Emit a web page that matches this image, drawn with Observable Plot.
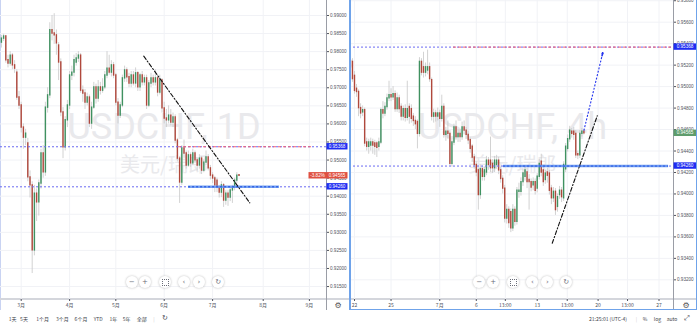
<!DOCTYPE html>
<html>
<head>
<meta charset="utf-8">
<script src="https://cdn.jsdelivr.net/npm/d3@7"></script>
<script src="https://cdn.jsdelivr.net/npm/@observablehq/plot@0.6"></script>
<style>
html,body{margin:0;padding:0;background:#fff;}
#wrap{position:relative;width:698px;height:325px;overflow:hidden;background:#fff;font-family:"Liberation Sans",Arial,sans-serif;color:#434651;}
.abs{position:absolute;}
.panel{position:absolute;top:0;width:349px;height:310px;}
.panel svg{position:absolute;left:0;top:0;}
.btn{position:absolute;width:12px;height:12px;margin:-6px 0 0 -6px;border-radius:50%;background:#fff;box-shadow:0 0 2px 0.6px rgba(0,0,0,0.16);color:#6a6d78;font-size:7px;line-height:12px;text-align:center;font-family:"DejaVu Sans",sans-serif;}
.corners{position:absolute;left:3.5px;top:3.5px;width:5px;height:5px;border:1px dotted #6a6d78;}
.tb{position:absolute;top:318px;transform:translate(-50%,-50%);font-size:5px;color:#3b3e48;white-space:nowrap;font-family:"Noto Sans CJK SC","Liberation Sans",sans-serif;}
.gear{position:absolute;transform:translate(-50%,-50%);font-family:"DejaVu Sans",sans-serif;font-size:8px;color:#555;}
</style>
</head>
<body>
<div id="wrap">
  <!-- panel chrome -->
  <div class="abs" style="left:0;top:0;width:1px;height:310px;background:#c9d3f2"></div>
  <div class="abs" style="left:0;top:298px;width:349px;height:2px;background:#d4d6dc"></div>
  <div class="abs" style="left:326px;top:0;width:1px;height:310px;background:#9a9da6"></div>
  <div class="abs" style="left:349px;top:298px;width:347px;height:2px;background:#d4d6dc"></div>
  <div class="abs" style="left:673px;top:0;width:1px;height:309px;background:#9a9da6"></div>
  <div id="left" class="panel" style="left:0"></div>
  <div id="right" class="panel" style="left:349px"></div>
  <div class="abs" style="left:349px;top:0;width:1.5px;height:310px;background:#6fa3ea"></div>
  <div class="abs" style="left:349px;top:308.5px;width:348px;height:1.5px;background:#6fa3ea"></div>
  <div class="abs" style="left:695.5px;top:0;width:1.5px;height:310px;background:#6fa3ea"></div>
  <div class="gear" style="left:338px;top:305px">⚙</div>
  <div class="gear" style="left:686px;top:305px">⚙</div>
  <div id="chrome"></div>
</div>
<script>
// ---------------- data ----------------
// Left: USDCHF daily, bar index 0 = first trading day of March
const leftStart = -9;
const leftCandles = [ // [open, high, low, close]
[.9825,.9845,.9810,.9836],[.9836,.9848,.9828,.9842],[.9842,.9845,.9768,.9776],[.9776,.9790,.9755,.9767],
[.9767,.9800,.9760,.9789],[.9789,.9795,.9750,.9762],[.9762,.9775,.9740,.9753],[.9742,.9750,.9665,.9673],
[.9673,.9690,.9640,.9651],
[.9651,.9660,.9575,.9590],[.9590,.9600,.9530,.9562],[.9562,.9585,.9540,.9573],[.9546,.9560,.9440,.9452],[.9452,.9470,.9395,.9430],
[.9430,.9440,.9186,.9250],[.9250,.9430,.9235,.9407],[.9407,.9420,.9330,.9383],[.9383,.9445,.9345,.9435],[.9435,.9530,.9420,.9518],
[.9518,.9540,.9450,.9466],[.9466,.9660,.9455,.9645],[.9645,.9700,.9630,.9679],[.9679,.9880,.9670,.9859],[.9859,.9900,.9830,.9850],
[.9850,.9905,.9820,.9845],[.9845,.9860,.9790,.9823],[.9817,.9825,.9720,.9770],[.9770,.9780,.9620,.9632],[.9632,.9645,.9504,.9535],
[.9535,.9620,.9525,.9610],[.9610,.9665,.9590,.9651],[.9651,.9745,.9640,.9734],[.9734,.9760,.9720,.9742],[.9742,.9790,.9730,.9776],
[.9770,.9795,.9760,.9781],[.9781,.9800,.9770,.9789],[.9789,.9795,.9685,.9692],[.9692,.9705,.9660,.9684],[.9684,.9695,.9640,.9659],
[.9659,.9685,.9650,.9673],[.9673,.9680,.9590,.9601],[.9601,.9660,.9585,.9645],[.9645,.9715,.9640,.9701],[.9701,.9710,.9655,.9670],
[.9670,.9720,.9660,.9701],[.9701,.9715,.9680,.9692],[.9692,.9725,.9685,.9701],[.9701,.9745,.9695,.9734],[.9734,.9800,.9725,.9753],
[.9753,.9790,.9735,.9742],[.9742,.9775,.9730,.9762],[.9762,.9770,.9725,.9734],[.9734,.9740,.9650,.9659],[.9659,.9670,.9600,.9623],
[.9623,.9660,.9615,.9651],[.9651,.9735,.9645,.9726],[.9726,.9760,.9715,.9748],[.9748,.9755,.9715,.9729],[.9729,.9740,.9700,.9712],
[.9712,.9745,.9700,.9734],[.9734,.9745,.9705,.9712],[.9712,.9755,.9700,.9740],[.9740,.9745,.9690,.9701],[.9701,.9740,.9690,.9734],
[.9734,.9745,.9705,.9715],[.9715,.9735,.9705,.9726],[.9726,.9735,.9640,.9651],[.9651,.9720,.9645,.9712],[.9712,.9740,.9700,.9726],
[.9726,.9735,.9705,.9715],[.9715,.9750,.9705,.9726],[.9726,.9735,.9675,.9687],[.9687,.9735,.9680,.9720],[.9720,.9725,.9630,.9643],
[.9643,.9660,.9600,.9615],[.9615,.9640,.9590,.9610],[.9610,.9650,.9600,.9623],[.9623,.9640,.9595,.9604],[.9604,.9630,.9590,.9618],
[.9618,.9625,.9545,.9554],[.9554,.9560,.9495,.9504],[.9504,.9510,.9380,.9438],[.9438,.9540,.9430,.9532],[.9532,.9555,.9505,.9518],
[.9518,.9525,.9475,.9485],[.9485,.9525,.9480,.9513],[.9513,.9520,.9480,.9491],[.9491,.9530,.9485,.9518],[.9518,.9525,.9490,.9499],
[.9499,.9505,.9470,.9485],[.9485,.9515,.9475,.9504],[.9504,.9510,.9460,.9471],[.9471,.9500,.9465,.9493],[.9493,.9525,.9485,.9507],
[.9507,.9515,.9470,.9477],[.9477,.9485,.9445,.9457],[.9457,.9465,.9435,.9449],[.9449,.9455,.9410,.9430],[.9443,.9450,.9410,.9424],
[.9424,.9430,.9395,.9410],[.9410,.9440,.9396,.9430],[.9430,.9435,.9369,.9388],[.9388,.9415,.9375,.9407],[.9407,.9415,.9372,.9396],
[.9396,.9425,.9385,.9416],[.9416,.9430,.9380,.9424],[.9424,.9450,.9415,.9443],[.9443,.9465,.9435,.9457],[.9458,.9460,.9454,.94565]
];
const leftTickIdx = [0, 22, 43, 65, 87, 110, 131];
const leftTickLabels = ["3月", "4月", "5月", "6月", "7月", "8月", "9月"];
const leftPriceTicks = [0.915,0.92,0.925,0.93,0.935,0.94,0.945,0.95,0.955,0.96,0.965,0.97,0.975,0.98,0.985,0.99];
const leftTrend = [[55.7, 0.97874], [103.9, 0.93817]];
const leftResZone = [71.5, 132];   // red dashed part of 0.95368 level
const leftSupZone = [76.1, 117.4]; // solid blue part of 0.94260 level

// Right: USDCHF 4h, bar index 0 = first bar of 22 June
const rightStart = -2;
const rightCandles = [ // [open, high, low, close]
[.9524,.9528,.9515,.9518],[.9523,.9526,.9504,.9507],[.9510,.9514,.9493,.9496],[.9498,.9502,.9490,.9495],
[.9495,.9497,.9472,.9480],[.9480,.9484,.9470,.9475],[.9476,.9482,.9472,.9478],[.9478,.9480,.9444,.9447],
[.9448,.9452,.9440,.9444],[.9444,.9451,.9437,.9448],[.9445,.9452,.9440,.9448],[.9448,.9451,.9437,.9445],
[.9447,.9450,.9436,.9444],[.9447,.9449,.9434,.9443],[.9444,.9452,.9440,.9448],[.9448,.9480,.9446,.9478],
[.9478,.9486,.9470,.9475],[.9475,.9485,.9472,.9481],[.9481,.9493,.9478,.9489],[.9489,.9505,.9486,.9492],
[.9492,.9498,.9486,.9490],[.9490,.9500,.9487,.9493],[.9493,.9496,.9476,.9479],[.9479,.9494,.9476,.9489],
[.9489,.9492,.9475,.9479],[.9481,.9484,.9468,.9472],[.9472,.9482,.9468,.9479],[.9479,.9483,.9467,.9471],
[.9471,.9505,.9468,.9479],[.9481,.9484,.9465,.9472],[.9479,.9483,.9466,.9470],[.9472,.9475,.9463,.9468],
[.9468,.9472,.9460,.9465],[.9467,.9469,.9442,.9456],[.9456,.9527,.9453,.9523],[.9523,.9526,.9510,.9513],
[.9518,.9532,.9508,.9513],[.9513,.9522,.9509,.9518],[.9515,.9534,.9511,.9518],[.9518,.9522,.9504,.9507],
[.9506,.9508,.9468,.9472],[.9472,.9479,.9466,.9475],[.9475,.9478,.9467,.9472],[.9472,.9480,.9468,.9475],
[.9475,.9478,.9462,.9470],[.9470,.9492,.9467,.9481],[.9481,.9484,.9452,.9455],[.9455,.9462,.9449,.9458],
[.9458,.9468,.9451,.9456],[.9456,.9459,.9426,.9428],[.9428,.9451,.9425,.9448],[.9448,.9465,.9445,.9462],
[.9462,.9468,.9450,.9453],[.9453,.9460,.9448,.9456],[.9456,.9460,.9448,.9453],[.9453,.9467,.9450,.9462],
[.9462,.9468,.9455,.9459],[.9459,.9462,.9451,.9455],[.9455,.9458,.9446,.9450],[.9450,.9452,.9438,.9442],
[.9444,.9446,.9430,.9434],[.9434,.9437,.9423,.9427],[.9427,.9430,.9416,.9420],[.9422,.9424,.9385,.9399],
[.9399,.9427,.9395,.9423],[.9423,.9426,.9412,.9416],[.9416,.9425,.9412,.9422],[.9420,.9435,.9417,.9431],
[.9431,.9434,.9422,.9427],[.9431,.9453,.9420,.9424],[.9428,.9432,.9419,.9424],[.9424,.9435,.9420,.9431],
[.9427,.9436,.9423,.9431],[.9431,.9434,.9418,.9422],[.9422,.9425,.9410,.9414],[.9414,.9417,.9400,.9405],
[.9405,.9408,.9373,.9377],[.9377,.9390,.9372,.9385],[.9385,.9388,.9368,.9373],[.9383,.9386,.9364,.9368],
[.9368,.9390,.9365,.9385],[.9385,.9388,.9370,.9374],[.9374,.9406,.9371,.9403],[.9402,.9410,.9396,.9403],
[.9402,.9415,.9398,.9411],[.9411,.9423,.9407,.9419],[.9416,.9426,.9412,.9422],[.9420,.9424,.9405,.9411],
[.9413,.9418,.9385,.9411],[.9411,.9414,.9402,.9406],[.9408,.9415,.9403,.9411],[.9411,.9414,.9399,.9403],
[.9405,.9419,.9401,.9416],[.9416,.9432,.9413,.9428],[.9430,.9437,.9416,.9420],[.9422,.9425,.9407,.9411],
[.9413,.9422,.9409,.9419],[.9420,.9424,.9410,.9417],[.9419,.9422,.9399,.9403],[.9405,.9408,.9390,.9396],
[.9396,.9406,.9392,.9402],[.9402,.9405,.9380,.9385],[.9388,.9400,.9383,.9397],[.9399,.9407,.9395,.9403],
[.9403,.9406,.9392,.9397],[.9396,.9430,.9393,.9427],[.9423,.9447,.9420,.9444],[.9442,.9455,.9439,.9451],
[.9451,.9463,.9448,.9459],[.9458,.9461,.9452,.9456],[.9458,.9462,.9450,.9455],[.9456,.9459,.9433,.9436],
[.9437,.9440,.9432,.9436],[.9436,.9459,.9433,.9456],[.9456,.9461,.9453,.9458],[.9458,.9460,.9455,.94565]
];
const rightTickIdx = [0, 18, 42, 60, 74.3, 90, 104.8, 120, 134.5, 150];
const rightTickLabels = ["22", "25", "7月", "6", "13:00", "13", "13:00", "20", "13:00", "27"];
const rightPriceTicks = [0.932,0.934,0.936,0.938,0.94,0.942,0.944,0.946,0.948,0.95,0.952,0.954,0.956,0.958];
const rightTrend = [[97.4, 0.93541], [119.6, 0.94728]];
const rightArrow = [[113.0, 0.94591], [122.3, 0.95315]];
const rightResZone = [48.8, 157.1];
const rightSupZone = [73.4, 154.7];

const resistance = 0.95368;
const support = 0.94260;
const lastPrice = 0.94565;
const dayChange = "-3.82%";

// ---------------- styles ----------------
const UP = "#3f9160", DOWN = "#b0483c", WICK = "#c6c6c6", GRID = "#f1f2f6";
const LEVEL = "#6a6af2", LEVEL_RED = "#ee5f73", SUPBAND = "#5f93f0";
const WM = "#e9e9ec";

function badgeMark(list) {
  return (index, scales, values, dims) => {
    const g = d3.create("svg:g");
    const x0 = dims.width - dims.marginRight + 0.5;
    const x1 = dims.width - 1.5;
    for (const b of list) {
      const y = scales.y(b.value);
      const xl = x0 - (b.prefix ? 18 : 0);
      g.append("rect").attr("x", xl).attr("y", y - 3.2).attr("width", x1 - xl).attr("height", 6.4).attr("fill", b.color);
      g.append("text").attr("x", (x0 + x1) / 2).attr("y", y).attr("dy", "0.35em")
        .attr("text-anchor", "middle").attr("fill", "#fff").attr("font-size", 4.6)
        .text(b.value.toFixed(5));
      if (b.prefix) {
        g.append("text").attr("x", xl + 9).attr("y", y).attr("dy", "0.35em")
          .attr("text-anchor", "middle").attr("fill", "#fff").attr("font-size", 4.6).text(b.prefix);
      }
    }
    return g.node();
  };
}

function chart(cfg) {
  const data = cfg.candles.map((d, k) => ({i: cfg.start + k, o: d[0], h: d[1], l: d[2], c: d[3]}));
  const labelMap = new Map(cfg.tickIdx.map((t, k) => [t, cfg.tickLabels[k]]));
  return Plot.plot({
    width: 349, height: 310,
    marginLeft: 0, marginRight: cfg.marginRight, marginTop: 0, marginBottom: 11,
    x: {domain: cfg.xDomain, axis: null},
    y: {domain: cfg.yDomain, axis: null},
    style: {background: "transparent", fontFamily: "Liberation Sans, Arial, sans-serif", overflow: "visible"},
    marks: [
      Plot.ruleY(cfg.priceTicks, {stroke: GRID, strokeWidth: 1}),
      Plot.ruleX(cfg.tickIdx, {stroke: GRID, strokeWidth: 1, y1: cfg.yDomain[0], y2: cfg.yDomain[1]}),
      Plot.text([cfg.watermark], {text: d => d, frameAnchor: "middle", dx: cfg.wmDx, dy: -23, fontSize: 36, fontFamily: "Roboto", fill: WM}),
      Plot.text(["美元/瑞郎"], {text: d => d, frameAnchor: "middle", dx: cfg.wmDx, dy: 16, fontSize: 20, fontFamily: "Noto Sans CJK SC", fill: WM}),
      Plot.ruleX(data, {x: "i", y1: "l", y2: "h", stroke: WICK, strokeWidth: 0.8}),
      Plot.ruleX(data, {x: "i", y1: "o", y2: "c", stroke: d => d.c >= d.o ? UP : DOWN, strokeWidth: 1.4, strokeLinecap: "square"}),
      Plot.ruleY([resistance, support], {stroke: LEVEL, strokeWidth: 1, strokeDasharray: "2,2"}),
      Plot.ruleY([resistance], {x1: cfg.resZone[0], x2: cfg.resZone[1], stroke: LEVEL_RED, strokeWidth: 1, strokeDasharray: "3,2"}),
      Plot.ruleY([support], {x1: cfg.supZone[0], x2: cfg.supZone[1], stroke: SUPBAND, strokeWidth: 2.6, strokeOpacity: 0.85}),
      Plot.ruleY([support], {x1: cfg.supZone[0], x2: cfg.supZone[1], stroke: "#1f4fe0", strokeWidth: 1, strokeDasharray: "2,2"}),
      Plot.line(cfg.trend, {x: d => d[0], y: d => d[1], stroke: "#111", strokeWidth: 1.1, strokeDasharray: "4,2,1.2,2"}),
      ...(cfg.arrow ? [
        Plot.link([cfg.arrow], {x1: d => d[0][0], y1: d => d[0][1], x2: d => d[1][0], y2: d => d[1][1], stroke: "#2233ee", strokeWidth: 1.1, strokeDasharray: "2,1.5"}),
        Plot.arrow([cfg.arrow], {x1: d => d[1][0] - (d[1][0] - d[0][0]) * 0.04, y1: d => d[1][1] - (d[1][1] - d[0][1]) * 0.04, x2: d => d[1][0], y2: d => d[1][1], stroke: "#2233ee", strokeWidth: 1.4, headLength: 5})
      ] : []),
      Plot.axisY({ticks: cfg.priceTicks, anchor: "right", tickFormat: d3.format(".5f"), tickSize: 2, tickPadding: 1.5, fontSize: 4.6, color: "#50535e", label: null}),
      Plot.axisX({ticks: cfg.tickIdx, anchor: "bottom", tickFormat: d => labelMap.get(d), tickSize: 2, tickPadding: 1.5, fontSize: 5, color: "#50535e", label: null, fontFamily: "Noto Sans CJK SC"}),
      badgeMark(cfg.badges)
    ]
  });
}

document.getElementById("left").appendChild(chart({
  candles: leftCandles, start: leftStart, marginRight: 23,
  xDomain: [-9.409, 138.77], yDomain: [0.911417, 0.994150],
  priceTicks: leftPriceTicks, tickIdx: leftTickIdx, tickLabels: leftTickLabels,
  watermark: "USDCHF, 1D", wmDx: 0.5,
  trend: leftTrend, resZone: leftResZone, supZone: leftSupZone,
  badges: [
    {value: resistance, color: "#1f2cf2"},
    {value: lastPrice, color: "#df5040", prefix: dayChange},
    {value: support, color: "#1f2cf2"}
  ]
}));

document.getElementById("right").appendChild(chart({
  candles: rightCandles, start: rightStart, marginRight: 25,
  xDomain: [-2.463, 157.14], yDomain: [0.930169, 0.958021],
  priceTicks: rightPriceTicks, tickIdx: rightTickIdx, tickLabels: rightTickLabels,
  watermark: "USDCHF, 4h", wmDx: 1,
  trend: rightTrend, resZone: rightResZone, supZone: rightSupZone, arrow: rightArrow,
  badges: [
    {value: resistance, color: "#1f2cf2"},
    {value: lastPrice, color: "#5e9c6c"},
    {value: support, color: "#1f2cf2"}
  ]
}));

// ---------------- UI chrome (buttons / toolbar) ----------------
const chrome = document.getElementById("chrome");
const btnGlyphs = ["−", "+", "[]", "‹", "›", "↻"];
const btnLeftX = [131.7, 145, 164.7, 184, 199, 218.3];
const btnRightX = [479.3, 493.3, 512.7, 532.3, 547.3, 566.3];
for (const xs of [btnLeftX, btnRightX]) {
  xs.forEach((x, k) => {
    const b = document.createElement("div");
    b.className = "btn";
    b.style.left = x + "px"; b.style.top = "281.7px";
    if (btnGlyphs[k] === "[]") { const c = document.createElement("div"); c.className = "corners"; b.appendChild(c); }
    else b.textContent = btnGlyphs[k];
    chrome.appendChild(b);
  });
}
const toolbarItems = [["1天",12.7],["5天",24],["1个月",42.7],["3个月",62.3],["6个月",81],["YTD",98.3],["1年",113.3],["5年",126.7],["全部",141.7],["|",154],["↻",165],
  ["21:25:01 (UTC-4)",608],["|",636.5],["%",645],["log",657.5],["auto",672],["⤢",687]];
for (const [t, x] of toolbarItems) {
  const s = document.createElement("div");
  s.className = "tb";
  s.style.left = x + "px";
  s.textContent = t;
  if (t === "|") s.style.color = "#d0d0d0";
  if (t === "↻" || t === "⤢") { s.style.fontSize = "7px"; s.style.fontFamily = "DejaVu Sans"; }
  chrome.appendChild(s);
}
</script>
</body>
</html>
